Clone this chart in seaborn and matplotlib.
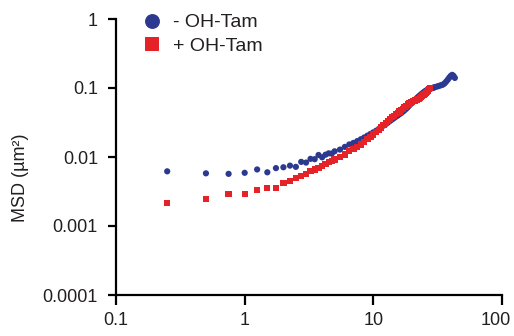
import numpy as np, pandas as pd, matplotlib.pyplot as plt
import seaborn as sb
from matplotlib.ticker import NullLocator
from matplotlib.transforms import ScaledTranslation

sb.set_theme(style='ticks')
plt.rcParams['font.family'] = ['Liberation Sans', 'DejaVu Sans']

# time lag (s) and MSD (um^2)
lag_minus = [0.25, 0.5, 0.75, 1.0, 1.25, 1.5, 1.75, 2.0, 2.25, 2.5, 2.75, 3.0, 3.25, 3.5,
             3.75, 4.0, 4.25, 4.5, 4.75, 5.0, 5.5, 6.0, 6.5, 7.0, 7.5, 8.0, 8.5, 9.0,
             9.5, 10, 10.5, 11, 11.5, 12, 12.5, 13, 13.5, 14, 14.5, 15, 15.5, 16,
             16.5, 17, 17.5, 18, 18.5, 19, 19.5, 20, 20.5, 21, 21.5, 22, 22.5, 23,
             23.5, 24, 24.5, 25, 25.5, 26, 26.5, 27, 27.5, 28, 28.5, 29, 29.5, 30,
             31, 32, 33, 34, 35, 36, 37, 38, 39, 40, 41, 42, 43]
msd_minus = [0.0062, 0.0058, 0.0057, 0.0059, 0.0066, 0.0060, 0.0069, 0.0071, 0.0075, 0.0072,
             0.0085, 0.0083, 0.0094, 0.0093, 0.0107, 0.0099, 0.0108, 0.0113, 0.0112, 0.0121,
             0.0128, 0.0140, 0.0152, 0.0160, 0.0170, 0.0181, 0.0192, 0.0204, 0.0216, 0.0228,
             0.0240, 0.0254, 0.0270, 0.0285, 0.0300, 0.0316, 0.0333, 0.0350, 0.0367, 0.0384,
             0.0400, 0.0418, 0.0436, 0.0455, 0.0477, 0.0500, 0.0527, 0.0555, 0.0585, 0.0615,
             0.0645, 0.0672, 0.0698, 0.0725, 0.0752, 0.0780, 0.0808, 0.0835, 0.0860, 0.0885,
             0.0908, 0.0928, 0.0946, 0.0962, 0.0975, 0.0985, 0.0995, 0.1005, 0.1015, 0.1025,
             0.1045, 0.1065, 0.1085, 0.1105, 0.113, 0.118, 0.125, 0.133, 0.142, 0.150,
             0.155, 0.150, 0.140]

lag_plus = [0.25, 0.5, 0.75, 1.0, 1.25, 1.5, 1.75, 2.0, 2.25, 2.5, 2.75, 3.0, 3.25, 3.5,
            3.75, 4.0, 4.25, 4.5, 4.75, 5.0, 5.5, 6.0, 6.5, 7.0, 7.5, 8.0, 8.5, 9.0,
            9.5, 10, 10.5, 11, 11.5, 12, 12.5, 13, 13.5, 14, 14.5, 15, 15.5, 16,
            16.5, 17, 17.5, 18, 18.5, 19, 19.5, 20, 20.5, 21, 21.5, 22, 22.5, 23,
            23.5, 24, 24.5, 25, 25.5, 26, 26.5, 27, 27.5]
msd_plus = [0.00213, 0.00249, 0.00288, 0.00294, 0.00329, 0.00359, 0.00355, 0.00416, 0.00454,
            0.0049, 0.0053, 0.0057, 0.0062, 0.0066, 0.0070, 0.0075, 0.0080, 0.0084, 0.0088,
            0.0092, 0.0100, 0.0109, 0.0121, 0.0131, 0.0141, 0.0152, 0.0165, 0.0180, 0.0196,
            0.0212, 0.0230, 0.0248, 0.0268, 0.0290, 0.0312, 0.0335, 0.0355, 0.0375, 0.0395,
            0.0415, 0.0435, 0.0455, 0.0478, 0.0500, 0.0525, 0.0550, 0.0575, 0.0595, 0.0615,
            0.0630, 0.0645, 0.0660, 0.0670, 0.0680, 0.0700, 0.0725, 0.0750, 0.0775, 0.0800,
            0.0825, 0.0850, 0.0880, 0.0920, 0.0960, 0.1000]

labels = ['- OH-Tam', '+ OH-Tam']
x_ticks = [0.1, 1, 10, 100]
x_ticklabels = ['0.1', '1', '10', '100']
y_ticks = [0.0001, 0.001, 0.01, 0.1, 1]
y_ticklabels = ['0.0001', '0.001', '0.01', '0.1', '1']

df = pd.concat([
    pd.DataFrame({'lag': lag_minus, 'msd': msd_minus, 'cond': labels[0]}),
    pd.DataFrame({'lag': lag_plus, 'msd': msd_plus, 'cond': labels[1]}),
])

txt = '#231f20'
fig = plt.figure(figsize=(5.14, 3.36), dpi=100)
ax = fig.add_axes([116/514, 41/336, 386/514, 276/336])

sb.scatterplot(data=df, x='lag', y='msd', hue='cond', style='cond',
               palette={labels[0]: '#2b3990', labels[1]: '#e52228'},
               markers={labels[0]: 'o', labels[1]: 's'},
               s=20, linewidth=0, ax=ax)

ax.set_xscale('log'); ax.set_yscale('log')
ax.set_xlim(0.1, 100); ax.set_ylim(1e-4, 1)
ax.set_xticks(x_ticks); ax.set_xticklabels(x_ticklabels)
ax.set_yticks(y_ticks); ax.set_yticklabels(y_ticklabels)
ax.xaxis.set_minor_locator(NullLocator())
ax.yaxis.set_minor_locator(NullLocator())
sb.despine(ax=ax)
for s in ['left', 'bottom']:
    ax.spines[s].set_linewidth(1.6)
    ax.spines[s].set_color('black')
ax.tick_params(axis='y', length=6, width=1.6, pad=7, labelsize=13, labelcolor=txt, color='black')
ax.tick_params(axis='x', length=7.5, width=1.6, pad=5, labelsize=13, labelcolor=txt, color='black')

# last x label sits a bit left of its tick so it stays inside the canvas
last = ax.get_xticklabels()[-1]
last.set_transform(last.get_transform() + ScaledTranslation(-0.06, 0, fig.dpi_scale_trans))

ax.set_xlabel('')
ax.set_ylabel('MSD (µm²)', fontsize=13, color=txt)
ax.yaxis.set_label_coords(-0.225, 0.424)

sb.move_legend(ax, 'upper left', bbox_to_anchor=(134/514, 1 - 6/336),
               bbox_transform=fig.transFigure, frameon=False, title=None,
               markerscale=2.4, handlelength=1, handletextpad=0.6,
               labelspacing=0.3, fontsize=14, borderaxespad=0)
for t in ax.get_legend().get_texts():
    t.set_color(txt)

fig.savefig('out.png', dpi=100)
